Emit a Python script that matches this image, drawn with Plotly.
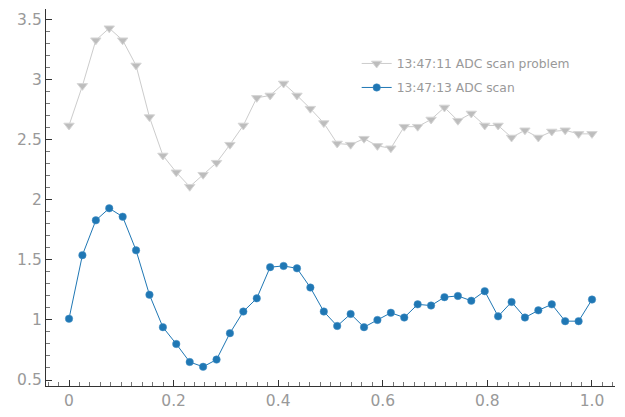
import plotly.graph_objects as go

# scan positions (40 steps from 0 to 1)
x_pos = [0.0, 0.0256, 0.0513, 0.0769, 0.1026, 0.1282, 0.1538, 0.1795, 0.2051, 0.2308,
         0.2564, 0.2821, 0.3077, 0.3333, 0.359, 0.3846, 0.4103, 0.4359, 0.4615, 0.4872,
         0.5128, 0.5385, 0.5641, 0.5897, 0.6154, 0.641, 0.6667, 0.6923, 0.7179, 0.7436,
         0.7692, 0.7949, 0.8205, 0.8462, 0.8718, 0.8974, 0.9231, 0.9487, 0.9744, 1.0]

# 13:47:11 ADC scan problem
scan_problem = [2.62, 2.95, 3.33, 3.43, 3.33, 3.12, 2.69, 2.37, 2.23, 2.11,
                2.21, 2.31, 2.46, 2.62, 2.85, 2.87, 2.97, 2.87, 2.76, 2.64,
                2.47, 2.46, 2.51, 2.45, 2.43, 2.61, 2.61, 2.67, 2.77, 2.66,
                2.72, 2.62, 2.62, 2.52, 2.58, 2.52, 2.57, 2.58, 2.55, 2.55]

# 13:47:13 ADC scan
scan_ok = [1.01, 1.54, 1.83, 1.93, 1.86, 1.58, 1.21, 0.94, 0.80, 0.65,
           0.61, 0.67, 0.89, 1.07, 1.18, 1.44, 1.45, 1.43, 1.27, 1.07,
           0.95, 1.05, 0.94, 1.00, 1.06, 1.02, 1.13, 1.12, 1.19, 1.20,
           1.16, 1.24, 1.03, 1.15, 1.02, 1.08, 1.13, 0.99, 0.99, 1.17]

x_tick_vals = [0, 0.2, 0.4, 0.6, 0.8, 1.0]
x_tick_text = ['0', '0.2', '0.4', '0.6', '0.8', '1.0']

fig = go.Figure()

fig.add_trace(go.Scatter(
    x=x_pos, y=scan_problem,
    mode='lines+markers',
    name='13:47:11 ADC scan problem',
    legendgroup='a',
    line=dict(color='#cccccc', width=1),
    marker=dict(symbol='triangle-down', size=9, color='#bdbdbd',
                line=dict(color='#d6d6d6', width=1))
))

fig.add_trace(go.Scatter(
    x=x_pos, y=scan_ok,
    mode='lines+markers',
    name='13:47:13 ADC scan',
    legendgroup='b',
    line=dict(color='#1f77b4', width=1),
    marker=dict(symbol='circle', size=7.5, color='#1f77b4',
                line=dict(color='#4a93c6', width=0.5))
))

axis_common = dict(
    showgrid=False, zeroline=False, automargin=False,
    showline=True, linecolor='#333333', linewidth=1.3,
    ticks='inside', ticklen=6, tickcolor='#333333', tickwidth=1.3,
    tickfont=dict(family='DejaVu Sans', size=15.5, color='#999999'),
)

fig.update_xaxes(
    range=[-0.044, 1.044],
    tickvals=x_tick_vals, ticktext=x_tick_text,
    minor=dict(dtick=0.02, ticks='inside', ticklen=3.5, tickcolor='#777777', tickwidth=1),
    **axis_common
)
fig.update_yaxes(
    range=[0.45, 3.59],
    dtick=0.5,
    minor=dict(dtick=0.1, ticks='inside', ticklen=4, tickcolor='#777777', tickwidth=1),
    **axis_common
)

# page body keeps its 8px margin, so the figure is sized to fit the window
fig.update_layout(
    width=617, height=409,
    margin=dict(l=38, r=10, t=1, b=31),
    plot_bgcolor='white', paper_bgcolor='white',
    showlegend=True,
    legend=dict(
        x=0.546, y=0.894, xanchor='left', yanchor='top',
        font=dict(family='DejaVu Sans', size=12.3, color='#999999'),
        bgcolor='rgba(0,0,0,0)', tracegroupgap=5,
    ),
)

fig.write_html("out.html")
